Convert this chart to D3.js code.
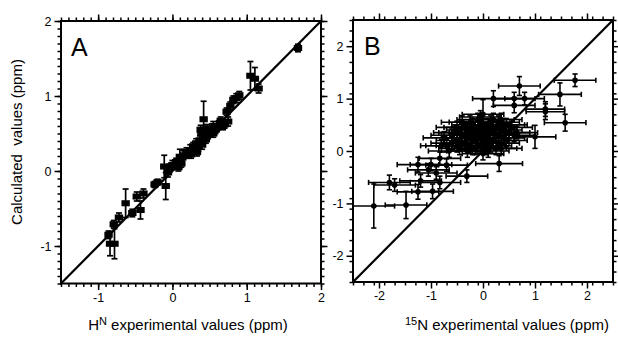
<!DOCTYPE html>
<html><head><meta charset="utf-8">
<script src="https://cdn.jsdelivr.net/npm/d3@7"></script>
<style>body{margin:0;background:#fff}svg{display:block}text{font-family:"Liberation Sans",Arial,sans-serif;fill:#000}</style>
</head><body><svg id="c" width="618" height="337"></svg>
<script>
// Panel A: HN (x, y, yerr)
const aX = [1.69,1.05,1.11,1.16,0.86,0.90,0.82,0.73,0.78,0.75,0.64,0.55,0.46,0.42,0.39,0.37,0.44,0.32,0.28,0.24,0.19,0.15,0.10,0.05,0.00,-0.04,-0.11,-0.09,-0.06,-0.20,-0.24,-0.39,-0.48,-0.43,-0.63,-0.54,-0.72,-0.79,-0.86,-0.84,-0.78,0.20,0.30,0.35,0.45,0.50,0.55,0.60,0.68,0.25,0.12,0.40,0.48,0.58,0.65,0.70,0.08,0.33,0.38];
const aY = [1.64,1.27,1.23,1.10,0.97,1.01,0.95,0.79,0.87,0.66,0.64,0.60,0.57,0.69,0.50,0.41,0.46,0.37,0.33,0.28,0.26,0.21,0.19,0.12,0.08,0.04,0.06,-0.20,-0.02,-0.15,-0.18,-0.30,-0.34,-0.52,-0.43,-0.56,-0.62,-0.71,-0.85,-0.97,-0.97,0.22,0.30,0.32,0.42,0.52,0.50,0.58,0.60,0.22,0.10,0.35,0.48,0.55,0.67,0.62,0.05,0.25,0.55];
const aYErr = [0.05,0.19,0.15,0.06,0.06,0.05,0.05,0.05,0.05,0.06,0.05,0.06,0.05,0.24,0.08,0.06,0.05,0.06,0.05,0.07,0.05,0.06,0.10,0.05,0.06,0.05,0.15,0.18,0.06,0.04,0.04,0.06,0.06,0.12,0.19,0.05,0.06,0.05,0.05,0.16,0.20,0.05,0.05,0.06,0.05,0.06,0.05,0.05,0.05,0.05,0.05,0.06,0.05,0.05,0.05,0.05,0.05,0.05,0.06];
const aXErr = 0.045;

// Panel B: 15N (x, y, xerr, yerr)
const bX = [1.77,1.48,1.58,1.20,1.00,0.70,0.20,0.60,0.80,0.60,0.00,0.31,-0.31,-0.83,-0.70,-1.00,-1.25,-1.20,-0.83,-0.97,-1.25,-1.80,-1.70,-2.10,-1.48,-0.90,-1.05,
  -0.60,-0.50,-0.45,-0.40,-0.35,-0.30,-0.30,-0.25,-0.20,-0.20,-0.15,-0.15,-0.10,-0.10,-0.05,-0.05,0.00,0.00,0.05,0.05,0.10,0.10,0.15,0.15,0.20,0.20,0.25,0.30,0.30,0.35,0.40,0.45,-0.55,-0.65,-0.75,-0.40,0.00,-0.10,0.20,0.50,-0.80,-0.20,0.10,0.35,0.65,1.20,
  -0.50,-0.45,-0.35,-0.25,-0.15,-0.05,0.05,0.10,0.15,0.25,0.30,0.40,0.45,0.55,-0.30,-0.60,-0.40,0.00,-0.20,0.20,-0.10,0.10,0.35,-0.05,0.25,0.60,-0.70,-0.50,0.05,-0.25];
const bY = [1.35,1.08,0.54,0.75,0.27,1.24,1.00,1.00,1.00,0.87,0.70,-0.24,-0.48,-0.14,-0.27,-0.26,-0.26,-0.57,-0.60,-0.77,-0.78,-0.60,-0.65,-1.05,-1.03,-0.42,-0.36,
  0.15,0.20,0.05,0.30,0.15,0.25,0.40,0.10,0.30,0.05,0.45,0.20,0.35,0.10,0.25,0.55,0.30,0.15,0.40,0.05,0.50,0.25,0.35,0.10,0.45,0.20,0.30,0.55,0.15,0.40,0.25,0.50,0.35,0.00,0.25,0.55,-0.05,0.60,0.60,0.35,0.10,0.50,0.00,0.05,0.35,0.80,
  0.10,0.35,0.45,0.55,0.05,0.40,0.20,0.40,0.55,0.45,0.30,0.50,0.20,0.45,0.00,0.30,0.15,0.50,0.20,0.35,0.25,0.15,0.60,0.65,0.05,0.30,0.10,0.45,0.30,0.35];
const bXErr = [0.40,0.41,0.40,0.37,0.40,0.40,0.40,0.40,0.38,0.40,0.40,0.45,0.40,0.40,0.40,0.40,0.40,0.40,0.40,0.40,0.40,0.40,0.40,0.40,0.40,0.40,0.40,
  0.40,0.40,0.40,0.40,0.40,0.40,0.40,0.40,0.40,0.40,0.40,0.40,0.40,0.40,0.40,0.40,0.40,0.40,0.40,0.40,0.40,0.40,0.40,0.40,0.40,0.40,0.40,0.40,0.40,0.40,0.40,0.40,0.40,0.40,0.40,0.40,0.40,0.40,0.40,0.40,0.40,0.40,0.40,0.40,0.40,0.37,
  0.40,0.40,0.40,0.40,0.40,0.40,0.40,0.40,0.40,0.40,0.40,0.40,0.40,0.40,0.40,0.40,0.40,0.40,0.40,0.40,0.40,0.40,0.40,0.40,0.40,0.40,0.40,0.40,0.40,0.40];
const bYErr = [0.12,0.22,0.16,0.15,0.22,0.18,0.15,0.12,0.12,0.14,0.28,0.15,0.12,0.12,0.12,0.12,0.14,0.12,0.12,0.14,0.14,0.14,0.12,0.42,0.26,0.12,0.12,
  0.12,0.12,0.12,0.12,0.12,0.12,0.12,0.12,0.12,0.12,0.12,0.12,0.12,0.12,0.12,0.12,0.12,0.12,0.12,0.12,0.12,0.12,0.12,0.12,0.12,0.12,0.12,0.12,0.12,0.12,0.12,0.12,0.12,0.12,0.12,0.12,0.12,0.12,0.12,0.12,0.12,0.12,0.12,0.12,0.12,0.14,
  0.12,0.12,0.12,0.12,0.12,0.12,0.12,0.12,0.12,0.12,0.12,0.12,0.12,0.12,0.12,0.12,0.12,0.12,0.12,0.12,0.12,0.12,0.12,0.12,0.12,0.12,0.12,0.12,0.12,0.12];

const aTicks = [-1, 0, 1, 2];
const bTicks = [-2, -1, 0, 1, 2];

const svg = d3.select("#c");
const axisFns = [d3.axisBottom, d3.axisTop, d3.axisLeft, d3.axisRight];

function panel(opt) {
  const x = d3.scaleLinear().domain(opt.dom).range([opt.x0, opt.x1]);
  const y = d3.scaleLinear().domain(opt.dom).range([opt.y1, opt.y0]);
  const g = svg.append("g");
  const minor = d3.range(opt.dom[0], opt.dom[1] + 1e-9, opt.minorStep).map(v => +v.toFixed(3));
  const trs = [`translate(0,${opt.y1})`, `translate(0,${opt.y0})`, `translate(${opt.x0},0)`, `translate(${opt.x1},0)`];
  axisFns.forEach((fn, i) => {
    const sc = i < 2 ? x : y;
    g.append("g").attr("transform", trs[i])
      .call(fn(sc).tickValues(minor).tickSize(3.5).tickFormat(""))
      .call(s => { s.select(".domain").remove(); s.selectAll("line").attr("stroke-width", 1.5); });
    g.append("g").attr("transform", trs[i])
      .call(fn(sc).tickValues(opt.ticks).tickSize(6.5).tickPadding(3)
        .tickFormat(i === 0 || i === 2 ? (d => String(d)) : ""))
      .call(s => {
        s.select(".domain").remove();
        s.selectAll("line").attr("stroke-width", 1.5);
        s.selectAll("text").attr("font-size", 12.5).attr("font-family", '"Liberation Sans",Arial,sans-serif');
      });
  });
  g.append("rect").attr("x", opt.x0).attr("y", opt.y0).attr("width", opt.x1 - opt.x0).attr("height", opt.y1 - opt.y0)
    .attr("fill", "none").attr("stroke", "#000").attr("stroke-width", 2);
  g.append("line").attr("x1", x(opt.dom[0])).attr("y1", y(opt.dom[0])).attr("x2", x(opt.dom[1])).attr("y2", y(opt.dom[1]))
    .attr("stroke", "#000").attr("stroke-width", 2.2);
  g.append("text").attr("x", opt.labX).attr("y", opt.labY).attr("font-size", 25).text(opt.letter);
  return {x, y, g};
}

function errbars(P, xs, ys, xe, ye, cap, sw) {
  const eg = P.g.append("g").attr("stroke", "#000").attr("stroke-width", sw);
  xs.forEach((xv, i) => {
    const xer = Array.isArray(xe) ? xe[i] : xe, yer = Array.isArray(ye) ? ye[i] : ye;
    const cx = P.x(xv), cy = P.y(ys[i]);
    const xl = P.x(xv - xer), xr = P.x(xv + xer), yt = P.y(ys[i] + yer), yb = P.y(ys[i] - yer);
    eg.append("line").attr("x1", xl).attr("x2", xr).attr("y1", cy).attr("y2", cy);
    eg.append("line").attr("x1", cx).attr("x2", cx).attr("y1", yt).attr("y2", yb);
    eg.append("line").attr("x1", xl).attr("x2", xl).attr("y1", cy - cap).attr("y2", cy + cap);
    eg.append("line").attr("x1", xr).attr("x2", xr).attr("y1", cy - cap).attr("y2", cy + cap);
    eg.append("line").attr("x1", cx - cap).attr("x2", cx + cap).attr("y1", yt).attr("y2", yt);
    eg.append("line").attr("x1", cx - cap).attr("x2", cx + cap).attr("y1", yb).attr("y2", yb);
  });
}

const A = panel({dom: [-1.5, 2], x0: 61, x1: 321, y0: 21, y1: 283.5, ticks: aTicks, minorStep: 0.1, letter: "A", labX: 71, labY: 56});
errbars(A, aX, aY, aXErr, aYErr, 3, 1.7);
A.g.append("g").selectAll("rect").data(aX).join("rect")
  .attr("x", d => A.x(d) - 3).attr("y", (d, i) => A.y(aY[i]) - 3).attr("width", 6).attr("height", 6).attr("fill", "#000");

const B = panel({dom: [-2.5, 2.5], x0: 353, x1: 613, y0: 20, y1: 282, ticks: bTicks, minorStep: 0.2, letter: "B", labX: 364, labY: 55});
errbars(B, bX, bY, bXErr, bYErr, 2.6, 1.6);
B.g.append("g").selectAll("circle").data(bX).join("circle")
  .attr("cx", d => B.x(d)).attr("cy", (d, i) => B.y(bY[i])).attr("r", 2.8).attr("fill", "#000");

// axis titles
svg.append("text").attr("transform", "translate(22,142) rotate(-90)").attr("text-anchor", "middle").attr("font-size", 15)
  .style("white-space", "pre").text("Calculated  values (ppm)");
const tA = svg.append("text").attr("x", 188).attr("y", 330).attr("text-anchor", "middle").attr("font-size", 15);
tA.append("tspan").text("H");
tA.append("tspan").attr("dy", -5).attr("font-size", 11).text("N");
tA.append("tspan").attr("dy", 5).text(" experimental values (ppm)");
const tB = svg.append("text").attr("x", 507).attr("y", 330).attr("text-anchor", "middle").attr("font-size", 15);
tB.append("tspan").attr("dy", -5).attr("font-size", 11).text("15");
tB.append("tspan").attr("dy", 5).text("N experimental values (ppm)");
</script></body></html>
